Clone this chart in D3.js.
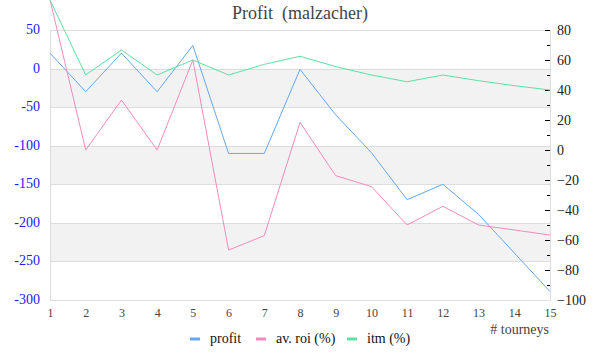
<!DOCTYPE html>
<html><head><meta charset="utf-8">
<script src="https://cdn.jsdelivr.net/npm/d3@7"></script>
<style>body{margin:0;background:#fff}svg{display:block}</style>
</head><body><svg id="c" width="600" height="360"></svg>
<script>
const tourneys = [1,2,3,4,5,6,7,8,9,10,11,12,13,14,15];
const profit = [20,-30,20,-30,30,-110,-110,-1,-60,-109,-170,-150,-189,-239,-289];
const avRoi = [100,0,33.3,0,60,-66.7,-57.1,18.4,-17.1,-24.4,-50,-37.5,-50,-53.3,-56.7];
const itm = [100,50,66.7,50,60,50,57.1,62.5,55.6,50,45.5,50,46.2,42.9,40];
const leftTicks = [50,0,-50,-100,-150,-200,-250,-300];
const rightTicks = [80,60,40,20,0,-20,-40,-60,-80,-100];
const seriesNames = ["profit","av. roi (%)","itm (%)"];
const colors = ["#62a8f2","#f28bbd","#5fe0a2"];

const FF = '"Liberation Serif", "DejaVu Serif", serif';
const svg = d3.select("#c");
const L=50,R=550,T=30,B=300;
const x = d3.scaleLinear().domain([1,15]).range([L,R]);
const yL = d3.scaleLinear().domain([-300,50]).range([B,T]);
const yR = d3.scaleLinear().domain([-100,80]).range([B,T]);

// bands
const bands = [[0,-50],[-100,-150],[-200,-250]];
svg.selectAll("rect.band").data(bands).enter().append("rect")
  .attr("x",L).attr("width",R-L)
  .attr("y",d=>yL(d[0])).attr("height",d=>yL(d[1])-yL(d[0]))
  .attr("fill","#f2f2f2");
// grid
svg.selectAll("line.grid").data(leftTicks).enter().append("line")
  .attr("x1",L).attr("x2",R).attr("y1",d=>Math.round(yL(d))+0.5).attr("y2",d=>Math.round(yL(d))+0.5)
  .attr("stroke","#dddddd");
svg.append("line").attr("x1",L+0.5).attr("x2",L+0.5).attr("y1",T).attr("y2",B).attr("stroke","#dddddd");
svg.append("line").attr("x1",R+0.5).attr("x2",R+0.5).attr("y1",T).attr("y2",B).attr("stroke","#dddddd");

// left labels
svg.selectAll("text.yl").data(leftTicks).enter().append("text")
  .attr("x",40).attr("y",d=>yL(d)+4).attr("text-anchor","end")
  .style("font-family",FF).style("font-size","14px").attr("fill","#2020ff").text(d=>d);

// right axis
const ra = d3.axisRight(yR).tickValues(rightTicks).tickSize(0).tickPadding(7).tickFormat(d3.format("d"));
const rg = svg.append("g").attr("transform",`translate(${R},0)`).call(ra);
rg.select(".domain").remove();
rg.selectAll("text").style("font-family",FF).style("font-size","14px").attr("fill","#222");
const minor = d3.range(-100,81,10);
svg.selectAll("line.rt").data(minor).enter().append("line")
  .attr("x1",d=>d%20===0?R-5:R-3).attr("x2",R)
  .attr("y1",d=>Math.round(yR(d))+0.5).attr("y2",d=>Math.round(yR(d))+0.5)
  .attr("stroke","#000");

// x axis labels
const xa = d3.axisBottom(x).tickValues(tourneys).tickSize(0).tickPadding(8).tickFormat(d3.format("d"));
const xg = svg.append("g").attr("transform",`translate(0,${B})`).call(xa);
xg.select(".domain").attr("stroke","#dddddd");
xg.selectAll("text").style("font-family",FF).style("font-size","12px").attr("fill","#444");
svg.append("text").attr("x",549).attr("y",334).attr("text-anchor","end")
  .style("font-family",FF).style("font-size","14px").attr("fill","#444").text("# tourneys");

// lines
const data = [
  {vals:profit, y:yL},
  {vals:avRoi, y:yR},
  {vals:itm, y:yR}
];
data.forEach((s,i)=>{
  const line = d3.line().x((d,j)=>x(tourneys[j])).y(d=>s.y(d));
  svg.append("path").attr("d",line(s.vals)).attr("fill","none")
    .attr("stroke",colors[i]).attr("stroke-width",1);
});

// title
svg.append("text").attr("x",300).attr("y",19).attr("text-anchor","middle")
  .style("font-family",FF).style("font-size","18px").attr("fill","#444").style("white-space","pre").text("Profit  (malzacher)");

// legend
const legX = [190,256,347];
seriesNames.forEach((n,i)=>{
  svg.append("line").attr("x1",legX[i]).attr("x2",legX[i]+10).attr("y1",339).attr("y2",339)
    .attr("stroke",colors[i]).attr("stroke-width",3);
  svg.append("text").attr("x",legX[i]+20).attr("y",343)
    .style("font-family",FF).style("font-size","14px").attr("fill","#111").text(n);
});
</script></body></html>
